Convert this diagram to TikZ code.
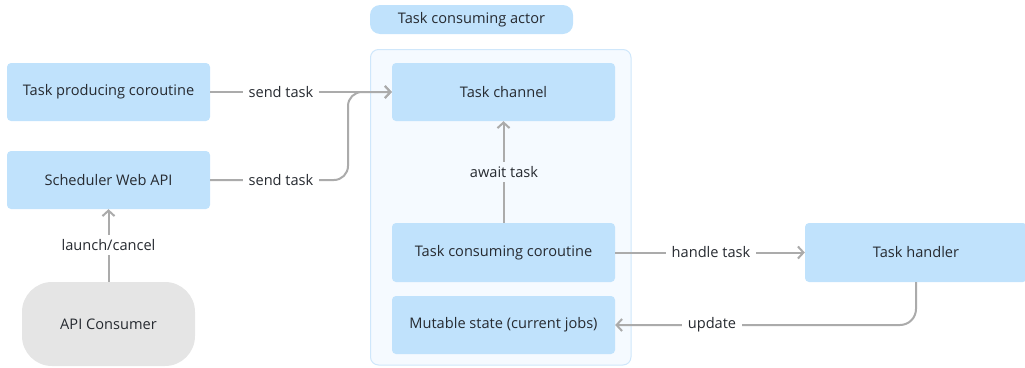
\documentclass[tikz,border=0pt]{standalone}
\usepackage{fontspec}
\setmainfont{Open Sans}
\usetikzlibrary{arrows.meta}
\definecolor{boxblue}{HTML}{C0E2FC}
\definecolor{actorbg}{HTML}{F5FAFF}
\definecolor{actorline}{HTML}{CFE7FB}
\definecolor{conngray}{HTML}{ABABAB}
\definecolor{txt}{HTML}{262A30}
\definecolor{consumer}{HTML}{E5E5E5}
\tikzset{
  txtfont/.style={text=txt, font=\fontsize{14.6}{17}\selectfont},
  box/.style={fill=boxblue, rounded corners=4pt, txtfont,
    minimum width=203pt, minimum height=58pt, inner sep=0pt},
  lbl/.style={fill=white, txtfont, inner xsep=6pt, inner ysep=4pt},
  conn/.style={draw=conngray, line width=2pt},
  tip/.style={-{Straight Barb[length=5.5pt,width=12pt,line width=2pt]}},
}
\begin{document}
\begin{tikzpicture}[x=1pt,y=-1pt]
\useasboundingbox (0,0) rectangle (1025,367);

% actor container and its caption
\path[fill=actorbg, draw=actorline, line width=1pt, rounded corners=8pt] (370.5,49.5) rectangle (631,365);
\node[fill=boxblue, rounded corners=10pt, minimum width=203pt, minimum height=29pt, inner sep=0pt,
  txtfont] (actor) at (471.5,19.5) {Task consuming actor};

% producers
\node[box] (prod) at (108.5,92) {Task producing coroutine};
\node[box] (sched) at (108.5,180) {Scheduler Web API};
\node[fill=consumer, rounded corners=30pt, minimum width=173pt, minimum height=84pt, inner sep=0pt,
  txtfont] (api) at (108.5,324) {API Consumer};

% actor internals
\node[box, minimum width=223pt] (chan) at (503.5,92) {Task channel};
\node[box, minimum width=223pt, minimum height=59pt] (cons) at (503.5,252.5) {Task consuming coroutine};
\node[box, minimum width=223pt] (state) at (503.5,325) {Mutable state (current jobs)};

% handler
\node[box, minimum width=222pt, minimum height=59pt] (handler) at (916,252.5) {Task handler};

% connectors
\draw[conn, tip] (prod.east) -- (chan.west);
\draw[conn, tip, rounded corners=14pt] (sched.east) -- (348,180) -- (348,92) -- (chan.west);
\draw[conn, tip] (cons.north) -- (chan.south);
\draw[conn, tip] (cons.east) -- (handler.west);
\draw[conn, tip, rounded corners=16pt] (handler.south) |- (state.east);
\draw[conn, tip] (api.north) -- (sched.south);

% connector labels
\node[lbl] (l1) at (281,92) {send task};
\node[lbl] (l2) at (281,180) {send task};
\node[lbl, fill=actorbg] (l3) at (504,172) {await task};
\node[lbl] (l4) at (711,252.5) {handle task};
\node[lbl] (l5) at (712,325) {update};
\node[lbl] (l6) at (108.5,245) {launch/cancel};
\end{tikzpicture}
\end{document}
